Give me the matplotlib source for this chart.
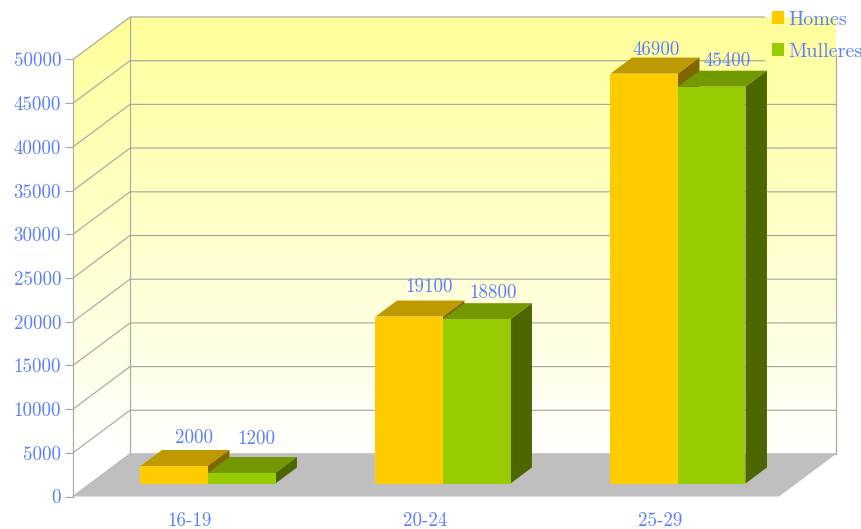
import numpy as np
import matplotlib
matplotlib.use("Agg")
import matplotlib.pyplot as plt
from matplotlib.patches import Polygon, Patch

plt.rcParams['axes.formatter.use_mathtext'] = True

categories = ["16-19", "20-24", "25-29"]
series_names = ["Homes", "Mulleres"]
homes = [2000, 19100, 46900]
mulleres = [1200, 18800, 45400]
y_ticks = [0, 5000, 10000, 15000, 20000, 25000, 30000, 35000, 40000, 45000, 50000]

# style
FONT = "cmr10"
FS = 13.6
BLUE = "#5B7FFF"
GRID = "#A8A8A4"
FLOOR = "#BFBFBF"
faces = [("#FFCC00", "#BF9900", "#7F6600"), ("#99CC00", "#739900", "#4C6600")]
# nudges (pixels) of the value labels from the centre of each bar's top
nudges = [[(-2, 12), (-6.5, 18)], [(-2, 14), (-5, 10)], [(-10, 8), (-6, 10)]]

W, H = 862, 529
fig = plt.figure(figsize=(W / 100, H / 100), dpi=100, facecolor="white")
L, R, T, B = 73, 836, 59.5, 496.5
ax = fig.add_axes([L / W, 1 - B / H, (R - L) / W, (B - T) / H])
ax.patch.set_alpha(0)

PXX = 235.0
x0 = 190.0
ymax = 50000
xlim = ((L - x0) / PXX, (R - x0) / PXX)
PXY = (B - T) / ymax
DX = 57 / PXX
DY = 42.5 / PXY
bw = 67.5 / PXX
x_left = (L - x0) / PXX
x_floor_r = (779 - x0) / PXX
x_legend = (765 - x0) / PXX - DX


def P(x, v, d=0.0):
    return (x + d * DX, v + d * DY)


# walls with gradient
t = np.linspace(0, 1, 256)
rgba = np.ones((256, 1, 3))
rgba[:, 0, 2] = 0.6 + 0.4 * t
back = Polygon([P(x_left, 0, 1), P(x_floor_r, 0, 1), P(x_floor_r, ymax, 1), P(x_left, ymax, 1)],
               closed=True, transform=ax.transData, fc="none", ec="none")
side = Polygon([P(x_left, 0, 0), P(x_left, 0, 1), P(x_left, ymax, 1), P(x_left, ymax, 0)],
               closed=True, transform=ax.transData, fc="none", ec="none")
ax.add_patch(back)
ax.add_patch(side)
back.set_clip_on(False)
side.set_clip_on(False)
for ext, poly in (((x_left + DX, x_floor_r + DX, DY, ymax + DY), back),
                  ((x_left, x_left + DX, DY, ymax + DY), side)):
    im = ax.imshow(rgba, extent=ext, origin="upper", aspect="auto", zorder=0,
                   interpolation="bilinear")
    im.set_clip_box(fig.bbox)
    im.set_clip_path(poly)
ax.set_xlim(*xlim)
ax.set_ylim(0, ymax)

# grid lines
for v in y_ticks:
    end = x_legend if v >= 45000 else x_floor_r
    xs, ys = zip(P(x_left, v, 0), P(x_left, v, 1), P(end, v, 1))
    ax.plot(xs, ys, color=GRID, lw=0.85, zorder=1, clip_on=False, solid_capstyle="butt")
xs, ys = zip(P(x_left, 0, 1), P(x_left, ymax, 1))
ax.plot(xs, ys, color=GRID, lw=0.85, zorder=1, clip_on=False)
xs, ys = zip(P(x_floor_r, 0, 1), P(x_floor_r, 45500, 1))
ax.plot(xs, ys, color=GRID, lw=0.85, zorder=1, clip_on=False)

# floor
ax.add_patch(Polygon([P(x_left, 0, 0), P(x_floor_r, 0, 0), P(x_floor_r, 0, 1), P(x_left, 0, 1)],
                     closed=True, fc=FLOOR, ec="none", zorder=2, clip_on=False))

# bars
D0, D1 = 13 / 42.5, 29 / 42.5
for s, vals in enumerate([homes, mulleres]):
    front, top, right = faces[s]
    for i, v in enumerate(vals):
        xa = i - bw + s * bw - DX * D0 + 18 / PXX
        xb = xa + bw
        z = 3 + s
        ax.add_patch(Polygon([P(xa, 0, D0), P(xb, 0, D0), P(xb, v, D0), P(xa, v, D0)],
                             closed=True, fc=front, ec="none", zorder=z + .2, clip_on=False))
        ax.add_patch(Polygon([P(xa, v, D0), P(xb, v, D0), P(xb, v, D1), P(xa, v, D1)],
                             closed=True, fc=top, ec="none", zorder=z, clip_on=False))
        ax.add_patch(Polygon([P(xb, 0, D0), P(xb, v, D0), P(xb, v, D1), P(xb, 0, D1)],
                             closed=True, fc=right, ec="none", zorder=z, clip_on=False))
        nx, ny = nudges[i][s]
        cx, cy = P((xa + xb) / 2, v, D1)
        ax.annotate(str(v), (cx, cy), xytext=(nx * .72, ny * .72), textcoords="offset points",
                    ha="center", va="center", color=BLUE, fontsize=FS, family=FONT,
                    zorder=10, annotation_clip=False)

# axes furniture
for k in ("top", "right", "bottom"):
    ax.spines[k].set_visible(False)
ax.spines["left"].set_color(GRID)
ax.spines["left"].set_linewidth(0.85)
ax.set_yticks(y_ticks)
ax.set_yticklabels([str(v) for v in y_ticks], family=FONT, fontsize=FS, color=BLUE)
ax.tick_params(axis="y", length=5.5, width=0.85, color=GRID, pad=3)
ax.set_xticks(range(len(categories)))
ax.set_xticklabels(categories, family=FONT, fontsize=FS, color=BLUE)
ax.tick_params(axis="x", length=0, pad=11.5)

handles = [Patch(fc=faces[i][0], ec="none", label=series_names[i]) for i in range(2)]
leg = fig.legend(handles=handles, loc="upper left", bbox_to_anchor=(770 / W, 1 - 9 / H),
                 frameon=False, handlelength=0.6, handleheight=0.6, handletextpad=0.2,
                 labelspacing=0.68, borderpad=0.1, borderaxespad=0,
                 prop={"family": FONT, "size": 14.5})
for txt in leg.get_texts():
    txt.set_color(BLUE)

fig.savefig("out.png", dpi=100)
